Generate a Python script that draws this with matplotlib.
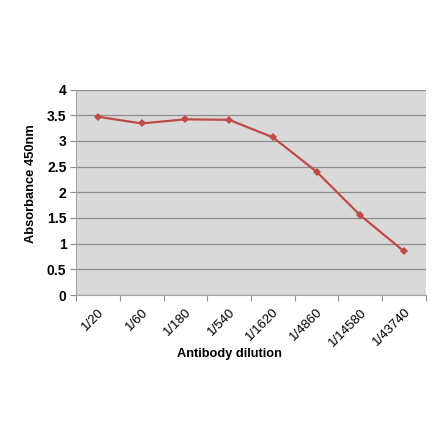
import matplotlib.pyplot as plt
import numpy as np

plt.rcParams['font.family'] = ['Liberation Sans', 'DejaVu Sans']

# data
dilutions = ['1/20', '1/60', '1/180', '1/540', '1/1620', '1/4860', '1/14580', '1/43740']
absorbance = [3.47, 3.34, 3.42, 3.41, 3.07, 2.40, 1.55, 0.85]
yticks = [0, 0.5, 1, 1.5, 2, 2.5, 3, 3.5, 4]

fig = plt.figure(figsize=(4.4, 4.41), dpi=100)
ax = fig.add_axes([0.173, 0.331, 0.795, 0.466])
ax.set_facecolor('#d9d9d9')

x = np.arange(len(dilutions))
ax.plot(x, absorbance, color='#be4b48', linewidth=1.6, marker='D',
        markersize=4.5, markeredgewidth=0, zorder=3)

ax.set_xlim(-0.5, len(dilutions) - 0.5)
ax.set_ylim(0, 4)
ax.set_yticks(yticks)
ax.set_yticklabels(['0', '0.5', '1', '1.5', '2', '2.5', '3', '3.5', '4'],
                   fontsize=10, fontweight='bold')
ax.yaxis.grid(True, color='#8c8c8c', linewidth=0.9)
ax.set_axisbelow(True)

# ticks between categories, labels at category centres
ax.set_xticks(np.arange(len(dilutions) + 1) - 0.5)
ax.set_xticklabels([])
ax.set_xticks(x, minor=True)
ax.set_xticklabels(dilutions, minor=True, rotation=45, ha='right',
                   rotation_mode='anchor', fontsize=9.5)
ax.tick_params(axis='x', which='minor', length=0, pad=8)
ax.tick_params(axis='x', which='major', length=4, color='#8c8c8c')
ax.tick_params(axis='y', length=4, color='#8c8c8c', pad=3)

for s in ['top', 'right']:
    ax.spines[s].set_visible(False)
ax.spines['left'].set_color('#a6a6a6')
ax.spines['bottom'].set_color('#a6a6a6')

ax.set_xlabel('Antibody dilution', fontsize=9.2, fontweight='bold')
ax.xaxis.set_label_coords(0.437, -0.258)
ax.set_ylabel('Absorbance 450nm', fontsize=9.3, fontweight='bold')
ax.yaxis.set_label_coords(-0.111, 0.543)

plt.savefig('out.png', dpi=100)
